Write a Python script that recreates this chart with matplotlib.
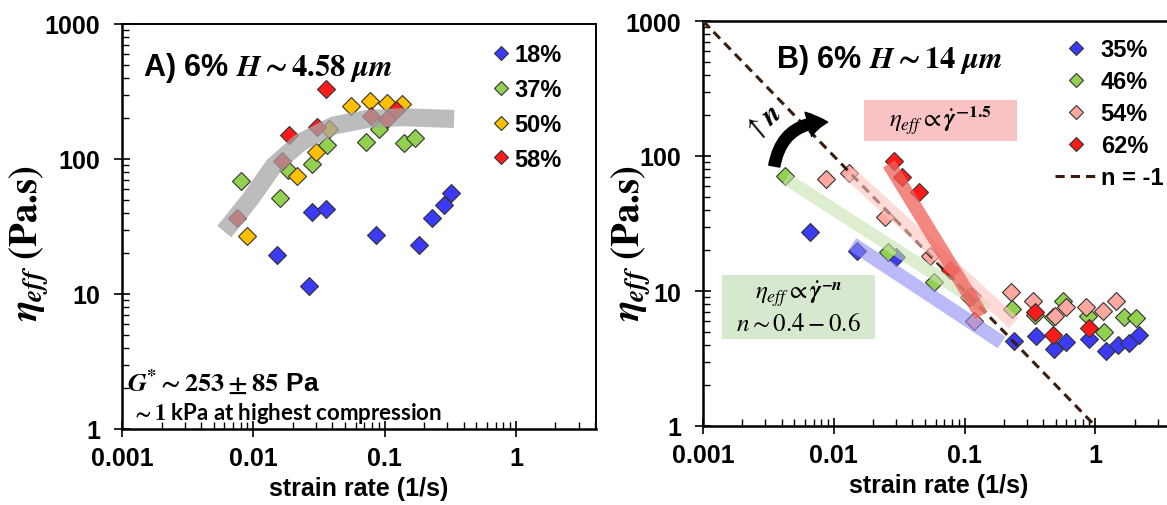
import matplotlib
matplotlib.use("Agg")
import matplotlib.pyplot as plt
from matplotlib.patches import Rectangle, FancyArrowPatch
from matplotlib.ticker import NullFormatter

plt.rcParams['font.family'] = ['Liberation Sans', 'DejaVu Sans']
# serif maths; \mathsf is used as the bold-italic slot
plt.rcParams['mathtext.fontset'] = 'custom'
plt.rcParams['mathtext.rm'] = 'STIXGeneral'
plt.rcParams['mathtext.it'] = 'STIXGeneral:italic'
plt.rcParams['mathtext.bf'] = 'STIXGeneral:bold'
plt.rcParams['mathtext.sf'] = 'STIXGeneral:italic:bold'

# ---- panel A: 6% gel, H ~ 4.58 um ----
a18_x = [0.0152, 0.0267, 0.0279, 0.0359, 0.0854, 0.182, 0.230, 0.281, 0.319]
a18_y = [19.5, 11.4, 40.3, 42.6, 27.2, 23.0, 36.7, 45.6, 56.0]
a37_x = [0.0081, 0.0160, 0.0184, 0.0279, 0.0365, 0.0725, 0.091, 0.140, 0.169]
a37_y = [68.7, 51.4, 83.0, 91.8, 127, 133, 167, 131.5, 144]
a50_x = [0.00895, 0.0216, 0.0301, 0.0374, 0.055, 0.0773, 0.105, 0.136]
a50_y = [27.0, 75.2, 112, 167, 245, 269, 261, 254]
a58_x = [0.0075, 0.0166, 0.0188, 0.0304, 0.0359, 0.0792, 0.105, 0.123]
a58_y = [36.6, 97.2, 151, 173, 330, 207, 198, 230]
# guide curve through the plateau
guide_x = [0.0060, 0.0067, 0.0095, 0.0143, 0.0229, 0.041, 0.0738, 0.132, 0.338]
guide_y = [29.0, 33.0, 50.6, 89.0, 133, 177, 198, 204, 198]

# ---- panel B: 6% gel, H ~ 14 um ----
b35_x = [0.00662, 0.0150, 0.0297, 0.240, 0.355, 0.481, 0.600, 0.903, 1.21, 1.48, 1.82, 2.17]
b35_y = [27.2, 19.9, 17.8, 4.28, 4.62, 3.72, 4.17, 4.41, 3.61, 3.98, 4.12, 4.75]
b46_x = [0.00426, 0.0261, 0.0581, 0.109, 0.232, 0.345, 0.475, 0.566, 0.877, 1.17, 1.67, 2.04]
b46_y = [71.5, 19.5, 11.6, 8.97, 7.36, 6.64, 6.4, 8.47, 6.56, 4.94, 6.38, 6.28]
b54_x = [0.00873, 0.0131, 0.0247, 0.0542, 0.118, 0.226, 0.335, 0.489, 0.600, 0.851, 1.14, 1.44]
b54_y = [67.6, 74.8, 35.2, 18.3, 6.03, 9.89, 8.47, 6.56, 7.57, 7.57, 7.15, 8.47]
b62_x = [0.0289, 0.0330, 0.0447, 0.0769, 0.114, 0.348, 0.475, 0.893]
b62_y = [91.4, 69.5, 54.5, 14.3, 9.22, 7.03, 4.72, 5.30]
# power-law fit bands (end points)
fit35_x, fit35_y = [0.0139, 0.192], [22.3, 4.16]
fit46_x, fit46_y = [0.00433, 0.152], [67.6, 7.4]
fit54_x, fit54_y = [0.0131, 0.238], [74.8, 5.8]
fit62_x, fit62_y = [0.0264, 0.135], [87.5, 6.6]
ref_x = [0.001, 1.0]
ref_y = [1000, 1.0]

blue, green, yellow, red, pink = '#3b3bf5', '#92d050', '#ffc000', '#ff1a1a', '#ffa8a0'

W, H = 1167, 506
fig = plt.figure(figsize=(W / 100, H / 100), dpi=100)
axA = fig.add_axes([122 / W, 1 - 430 / H, 474 / W, 405 / H])
axB = fig.add_axes([703 / W, 1 - 427 / H, 472 / W, 405 / H])

mk = dict(marker='D', ms=9.5, mec='#333333', mew=0.8, ls='none')


def style(ax):
    ax.set_xscale('log')
    ax.set_yscale('log')
    ax.set_xlim(0.001, 4.07)
    ax.set_ylim(1, 1000)
    ax.set_xticks([0.001, 0.01, 0.1, 1])
    ax.set_xticklabels(['0.001', '0.01', '0.1', '1'], fontweight='bold')
    ax.set_yticks([1, 10, 100, 1000])
    ax.set_yticklabels(['1', '10', '100', '1000'], fontweight='bold')
    ax.xaxis.set_minor_formatter(NullFormatter())
    ax.yaxis.set_minor_formatter(NullFormatter())
    ax.tick_params(which='major', direction='inout', length=11, width=1.2,
                   labelsize=18)
    ax.tick_params(axis='x', which='major', pad=7)
    ax.tick_params(axis='y', which='major', pad=10)
    ax.tick_params(which='minor', direction='in', length=5, width=1.0)
    for s in ax.spines.values():
        s.set_linewidth(1.8)
    ax.set_xlabel('strain rate (1/s)', fontsize=18, fontweight='bold', labelpad=4)


leg_font = {'size': 17, 'weight': 'bold'}

# panel A
style(axA)
axA.plot(a18_x, a18_y, color=blue, label='18%', **mk)
axA.plot(a37_x, a37_y, color=green, label='37%', **mk)
axA.plot(a50_x, a50_y, color=yellow, label='50%', **mk)
axA.plot(a58_x, a58_y, color=red, label='58%', **mk)
axA.plot(guide_x, guide_y, color='#a6a6a6', lw=13, alpha=0.75,
         solid_capstyle='butt', zorder=5)
axA.text(0.045, 0.895, r'A) 6% $\mathsf{H}\mathbf{\sim4.58}\ \mathsf{\mu m}$',
         transform=axA.transAxes, fontsize=22, fontweight='bold', va='center')
axA.text(0.01, 0.117, r'$\mathsf{G}^{\mathbf{*}}\mathbf{\sim253\pm85}$ Pa',
         transform=axA.transAxes, fontsize=19, fontweight='bold', va='center')
axA.text(0.02, 0.04, r'$\mathbf{\sim1}$ kPa at highest compression', transform=axA.transAxes,
         family='Lato', fontsize=16, fontweight='bold', va='center')
axA.legend(loc='upper left', bbox_to_anchor=(0.735, 1.005), frameon=False,
           prop=leg_font, handlelength=0.8, handletextpad=0.15, labelspacing=0.5,
           markerscale=0.8)
axA.spines['top'].set_linewidth(1.4)
axA.spines['right'].set_linewidth(1.4)

# panel B
style(axB)
axB.spines['right'].set_visible(False)
axB.plot(ref_x, ref_y, color='#3a1c0c', ls=(0, (3, 2)), lw=2.2, label='n = -1', zorder=4)
axB.plot(b35_x, b35_y, color=blue, label='35%', **mk)
axB.plot(b46_x, b46_y, color=green, label='46%', **mk)
axB.plot(b54_x, b54_y, color=pink, label='54%', **mk)
axB.plot(b62_x, b62_y, color=red, label='62%', **mk)
axB.plot(fit35_x, fit35_y, color='#8c8cf5', lw=10, alpha=0.6, solid_capstyle='butt', zorder=5)
axB.plot(fit46_x, fit46_y, color='#c5e3ad', lw=9, alpha=0.6, solid_capstyle='butt', zorder=5)
axB.plot(fit54_x, fit54_y, color='#ffc4be', lw=10, alpha=0.6, solid_capstyle='butt', zorder=5)
axB.plot(fit62_x, fit62_y, color='#f0605a', lw=10, alpha=0.75, solid_capstyle='butt', zorder=5)

axB.add_patch(Rectangle((0.341, 0.704), 0.324, 0.101, transform=axB.transAxes,
                        fc='#fac3c3', ec='none', zorder=1))
axB.text(0.503, 0.755, r'$\eta_{eff}\propto\dot{\mathsf{\gamma}}^{\mathbf{-1.5}}$',
         transform=axB.transAxes, fontsize=18, ha='center', va='center', zorder=2)
axB.add_patch(Rectangle((0.040, 0.215), 0.324, 0.158, transform=axB.transAxes,
                        fc='#d6e9cf', ec='none', zorder=1))
axB.text(0.202, 0.294, r'$\eta_{eff}\propto\dot{\mathsf{\gamma}}^{\mathsf{-n}}$' + '\n'
         + r'$n\sim0.4-0.6$',
         transform=axB.transAxes, fontsize=18, ha='center', va='center',
         linespacing=1.15, zorder=2)
axB.add_patch(FancyArrowPatch((0.150, 0.635), (0.270, 0.750), transform=axB.transAxes,
                              connectionstyle='arc3,rad=-0.45',
                              arrowstyle='simple,head_width=18,head_length=14,tail_width=8',
                              fc='black', ec='black', zorder=6))
axB.text(0.128, 0.75, r'$\uparrow\mathsf{n}$', transform=axB.transAxes, fontsize=21,
         rotation=40, ha='center', va='center')
axB.text(0.155, 0.905, r'B) 6% $\mathsf{H}\mathbf{\sim14}\ \mathsf{\mu m}$',
         transform=axB.transAxes, fontsize=22, fontweight='bold', va='center')
hb, lb = axB.get_legend_handles_labels()
axB.legend(hb[1:] + hb[:1], lb[1:] + lb[:1], loc='upper left', bbox_to_anchor=(0.70, 1.01),
           frameon=False, prop=leg_font, handlelength=1.8, handletextpad=0.15,
           labelspacing=0.38, markerscale=0.8)

ylab = r'$\mathsf{\eta_{eff}}$ (Pa.s)'
for xp in (29, 631):
    fig.text(xp / W, 1 - 243 / H, ylab, rotation=90, fontsize=28, family='STIXGeneral',
             fontweight='bold', ha='center', va='center')

fig.savefig('out.png', dpi=100)
